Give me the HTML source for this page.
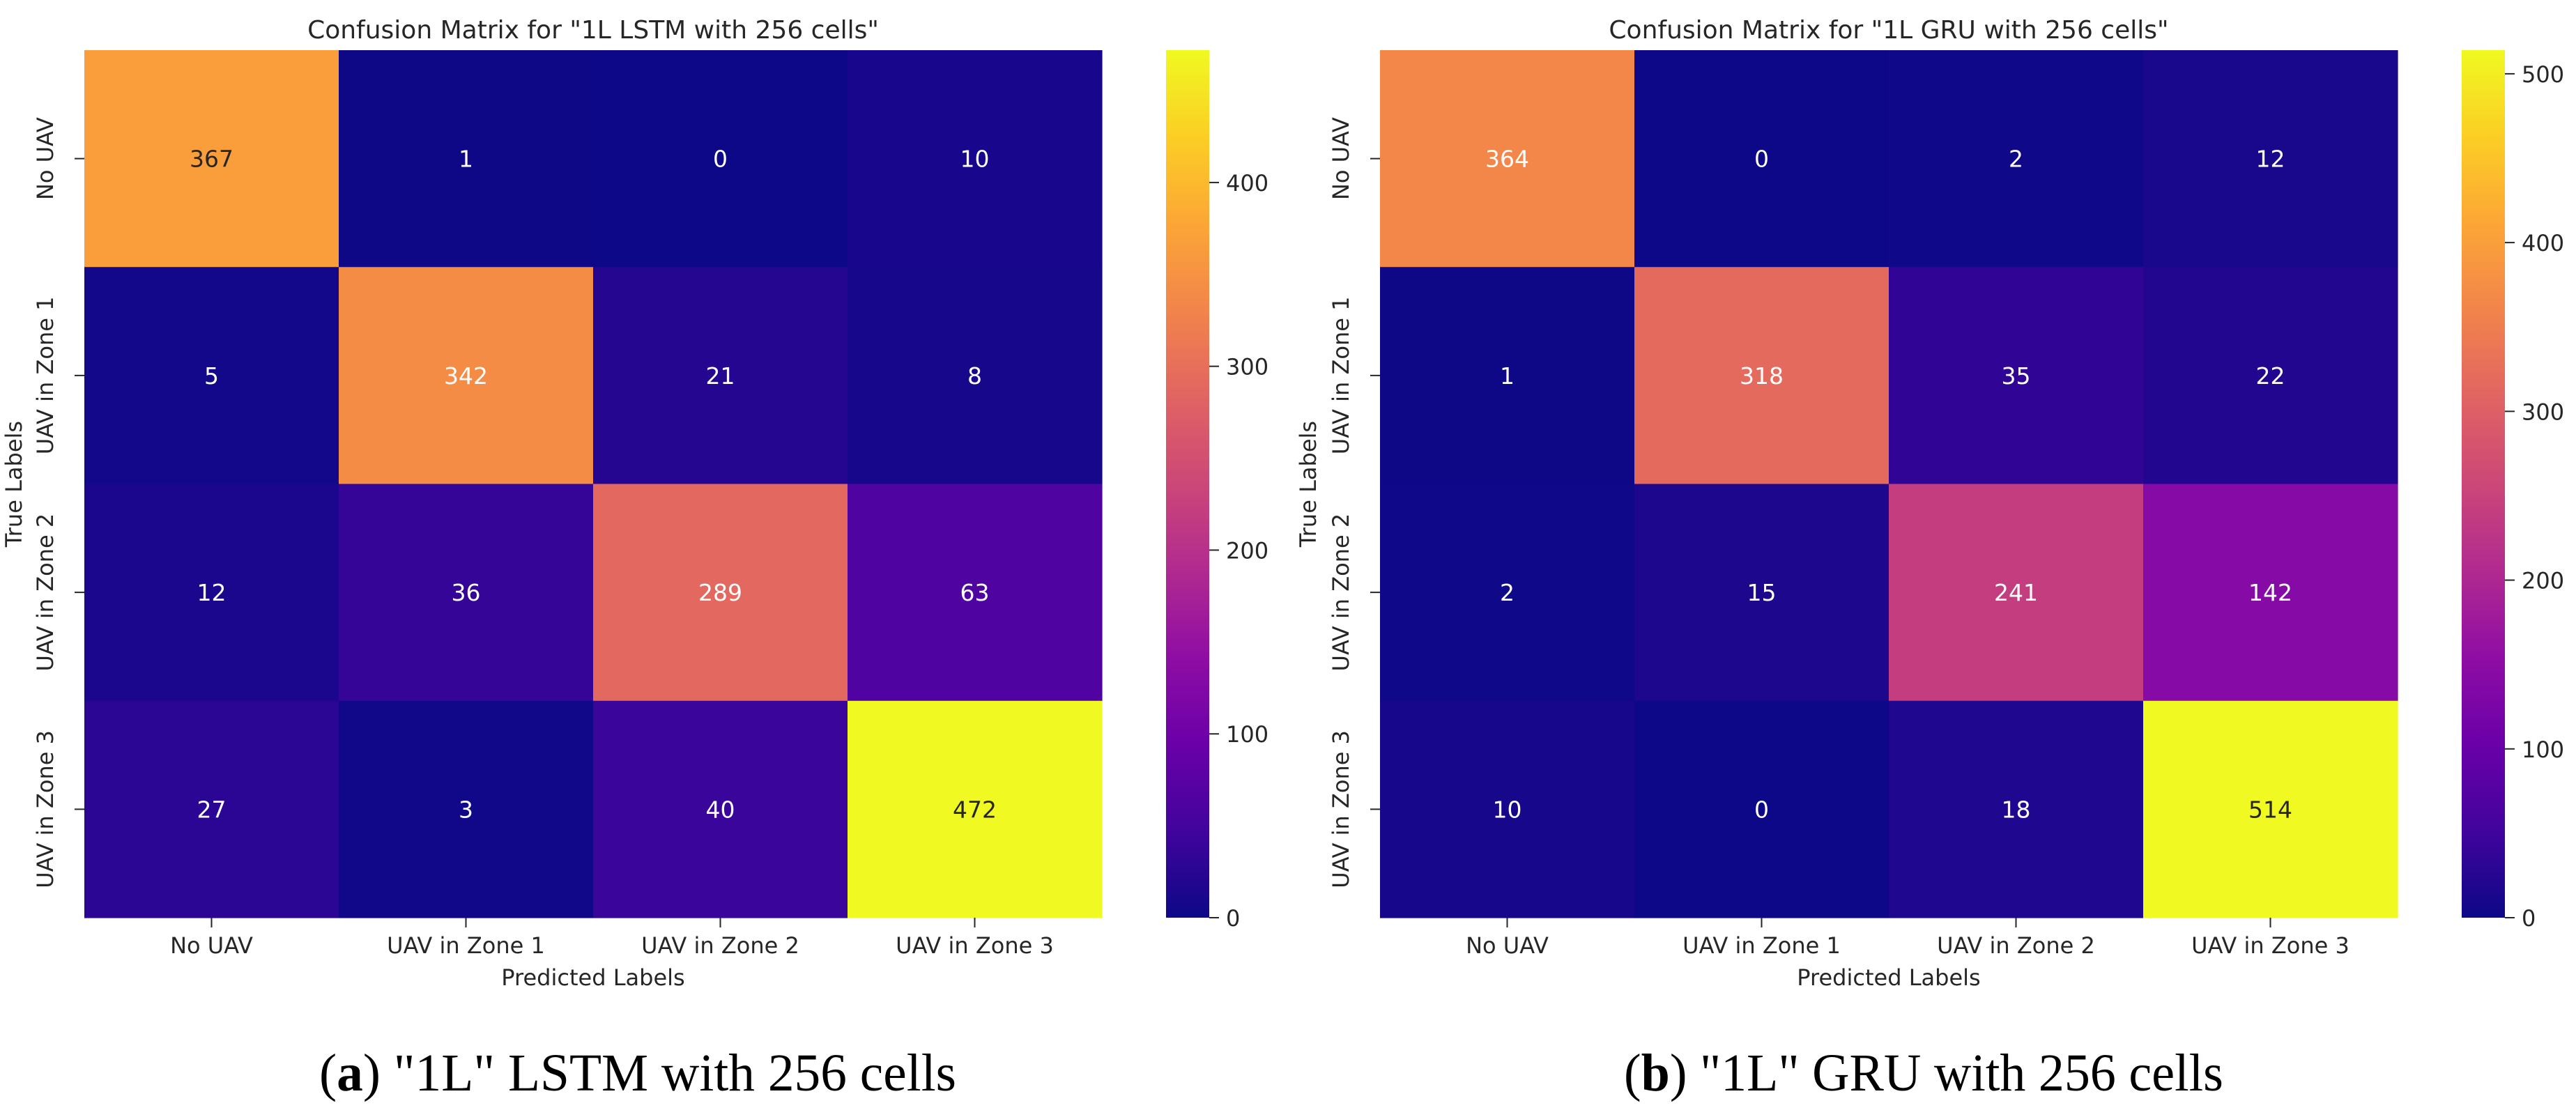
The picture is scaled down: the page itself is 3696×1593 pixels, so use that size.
<!DOCTYPE html>
<html><head><meta charset="utf-8">
<style>
html,body{margin:0;padding:0;background:#fff;}
svg{display:block;}
</style></head>
<body>
<svg id="fig" width="3696" height="1593" viewBox="0 0 3696 1593" xmlns="http://www.w3.org/2000/svg" font-family="'DejaVu Sans', 'Liberation Sans', sans-serif">
<rect width="3696" height="1593" fill="#fff"/>
<g id="panelA"></g>
<g id="panelB"></g>
<text x="458" y="1565" font-family="'Liberation Serif', serif" font-size="76" textLength="914" lengthAdjust="spacingAndGlyphs" fill="#000">(<tspan font-weight="bold">a</tspan>) "1L" LSTM with 256 cells</text>
<text x="2330" y="1565" font-family="'Liberation Serif', serif" font-size="76" textLength="860" lengthAdjust="spacingAndGlyphs" fill="#000">(<tspan font-weight="bold">b</tspan>) "1L" GRU with 256 cells</text>
</svg>
<script>
const categories = ["No UAV","UAV in Zone 1","UAV in Zone 2","UAV in Zone 3"];
const lstmValues = [[367,1,0,10],[5,342,21,8],[12,36,289,63],[27,3,40,472]];
const gruValues = [[364,0,2,12],[1,318,35,22],[2,15,241,142],[10,0,18,514]];
const lstmTicks = [0,100,200,300,400];
const gruTicks = [0,100,200,300,400,500];
const lstmTitle = 'Confusion Matrix for "1L LSTM with 256 cells"';
const gruTitle = 'Confusion Matrix for "1L GRU with 256 cells"';

const plasma = ["#0d0887","#41049d","#6a00a8","#8f0da4","#b12a90","#cc4778","#e16462","#f2844b","#fca636","#fcce25","#f0f921"];
function hex2rgb(h){return [parseInt(h.substr(1,2),16),parseInt(h.substr(3,2),16),parseInt(h.substr(5,2),16)];}
function cmap(t){
  t=Math.max(0,Math.min(1,t));
  const p=t*10, i=Math.min(9,Math.floor(p)), f=p-i;
  const a=hex2rgb(plasma[i]), b=hex2rgb(plasma[i+1]);
  return a.map((v,k)=>Math.round(v+(b[k]-v)*f));
}
function lum(c){
  const l=c.map(v=>{v/=255;return v<=0.03928?v/12.92:Math.pow((v+0.055)/1.055,2.4);});
  return 0.2126*l[0]+0.7152*l[1]+0.0722*l[2];
}
const NS="http://www.w3.org/2000/svg";
function el(tag,attrs,parent){const e=document.createElementNS(NS,tag);for(const k in attrs)e.setAttribute(k,attrs[k]);parent.appendChild(e);return e;}

function drawPanel(g, values, ticks, title, L, cbL, tickLabX, trueLabX){
  const T=72, B=1317, W=1460, H=B-T, n=categories.length;
  const cw=W/n, ch=H/n;
  const vmin=0, vmax=Math.max(...values.flat());
  const xAt=j=>L+j*cw, yAt=i=>T+i*ch;
  const tt=el('text',{x:L+W/2,y:55,'text-anchor':'middle','font-size':36,fill:'#262626'},g);
  
  
  tt.textContent=title;
  values.forEach((row,i)=>row.forEach((v,j)=>{
    const c=cmap((v-vmin)/(vmax-vmin));
    const r=el('rect',{x:xAt(j),y:yAt(i),width:cw+0.6,height:ch+0.6,fill:`rgb(${c.join(',')})`},g);
    
    
    const t=el('text',{x:xAt(j)+cw/2,y:yAt(i)+ch/2+12,'text-anchor':'middle','font-size':33,fill:lum(c)>0.408?'#262626':'#ffffff'},g);
    
    
    t.textContent=v;
  }));
  categories.forEach((c,j)=>{
    const x=xAt(j)+cw/2;
    el('line',{x1:x,y1:B,x2:x,y2:B+14,stroke:'#262626','stroke-width':2},g);
    const t=el('text',{x:x,y:1368,'text-anchor':'middle','font-size':32,fill:'#262626'},g);
    
    
    t.textContent=c;
    const y=yAt(j)+ch/2;
    el('line',{x1:L-14,y1:y,x2:L,y2:y,stroke:'#262626','stroke-width':2},g);
    const ty=el('text',{x:0,y:0,'text-anchor':'middle','font-size':32,fill:'#262626',transform:`translate(${tickLabX},${y}) rotate(-90)`},g);
    
    
    ty.textContent=c;
  });
  const xl=el('text',{x:L+W/2,y:1414,'text-anchor':'middle','font-size':32,fill:'#262626'},g);
  
  
  xl.textContent='Predicted Labels';
  const yl=el('text',{x:0,y:0,'text-anchor':'middle','font-size':32,fill:'#262626',transform:`translate(${trueLabX},${T+H/2}) rotate(-90)`},g);
  
  
  yl.textContent='True Labels';
  // colorbar
  const gid='grad'+L;
  const defs=el('defs',{},g);
  const lg=el('linearGradient',{id:gid,x1:0,y1:1,x2:0,y2:0},defs);
  plasma.forEach((c,k)=>el('stop',{offset:k/10,'stop-color':c},lg));
  const cb=el('rect',{x:cbL,y:T,width:62,height:H,fill:`url(#${gid})`},g);
  
  
  const cy=v=>B-(v-vmin)/(vmax-vmin)*H;
  ticks.forEach(v=>{
    const y=cy(v);
    el('line',{x1:cbL+62,y1:y,x2:cbL+76,y2:y,stroke:'#262626','stroke-width':2},g);
    const t=el('text',{x:cbL+86,y:y+12,'font-size':32,fill:'#262626'},g);
    
    
    t.textContent=v;
  });
}
drawPanel(document.getElementById('panelA'), lstmValues, lstmTicks, lstmTitle, 121, 1673, 76, 31);
drawPanel(document.getElementById('panelB'), gruValues, gruTicks, gruTitle, 1980, 3532, 1935, 1888);
</script>
</body></html>
